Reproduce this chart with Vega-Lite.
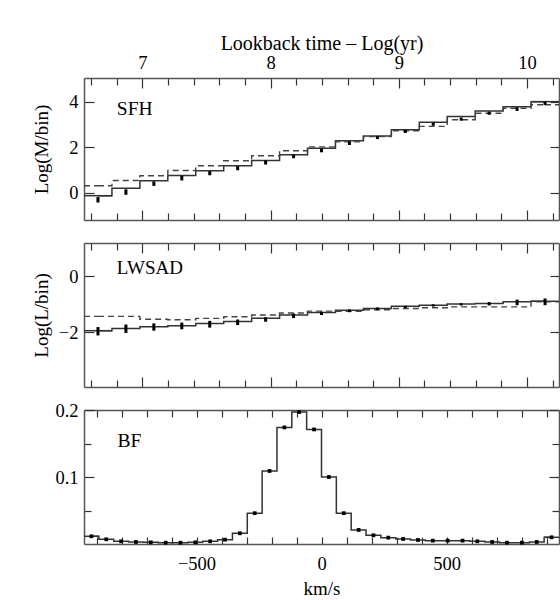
{
  "$schema": "https://vega.github.io/schema/vega-lite/v6.json",
  "background": "white",
  "padding": {"left": 31, "top": 33, "right": 1, "bottom": 0},
  "spacing": 23,
  "bounds": "flush",
  "datasets": {
    "sfh": [
      {"x": 6.653, "x0": 6.544, "x1": 6.762, "fit": -0.13, "model": 0.31, "lo": -0.43, "hi": -0.19},
      {"x": 6.871, "x0": 6.762, "x1": 6.980, "fit": 0.20, "model": 0.54, "lo": -0.09, "hi": 0.15},
      {"x": 7.089, "x0": 6.980, "x1": 7.198, "fit": 0.53, "model": 0.75, "lo": 0.30, "hi": 0.50},
      {"x": 7.307, "x0": 7.198, "x1": 7.416, "fit": 0.76, "model": 0.98, "lo": 0.54, "hi": 0.74},
      {"x": 7.525, "x0": 7.416, "x1": 7.634, "fit": 0.97, "model": 1.19, "lo": 0.77, "hi": 0.95},
      {"x": 7.743, "x0": 7.634, "x1": 7.852, "fit": 1.19, "model": 1.41, "lo": 0.99, "hi": 1.17},
      {"x": 7.961, "x0": 7.852, "x1": 8.070, "fit": 1.42, "model": 1.63, "lo": 1.24, "hi": 1.42},
      {"x": 8.179, "x0": 8.070, "x1": 8.288, "fit": 1.67, "model": 1.85, "lo": 1.52, "hi": 1.68},
      {"x": 8.397, "x0": 8.288, "x1": 8.506, "fit": 1.96, "model": 2.02, "lo": 1.78, "hi": 1.94},
      {"x": 8.615, "x0": 8.506, "x1": 8.724, "fit": 2.29, "model": 2.24, "lo": 2.10, "hi": 2.26},
      {"x": 8.833, "x0": 8.724, "x1": 8.942, "fit": 2.50, "model": 2.47, "lo": 2.36, "hi": 2.50},
      {"x": 9.051, "x0": 8.942, "x1": 9.160, "fit": 2.77, "model": 2.73, "lo": 2.63, "hi": 2.77},
      {"x": 9.269, "x0": 9.160, "x1": 9.378, "fit": 3.10, "model": 2.92, "lo": 2.95, "hi": 3.09},
      {"x": 9.487, "x0": 9.378, "x1": 9.596, "fit": 3.36, "model": 3.21, "lo": 3.17, "hi": 3.31},
      {"x": 9.705, "x0": 9.596, "x1": 9.814, "fit": 3.60, "model": 3.50, "lo": 3.43, "hi": 3.57},
      {"x": 9.923, "x0": 9.814, "x1": 10.032, "fit": 3.79, "model": 3.72, "lo": 3.60, "hi": 3.76},
      {"x": 10.141, "x0": 10.032, "x1": 10.250, "fit": 4.01, "model": 3.87, "lo": 3.86, "hi": 4.02}
    ],
    "lw": [
      {"x": 6.653, "x0": 6.544, "x1": 6.762, "fit": -1.95, "model": -1.44, "lo": -2.12, "hi": -1.82},
      {"x": 6.871, "x0": 6.762, "x1": 6.980, "fit": -1.87, "model": -1.44, "lo": -2.03, "hi": -1.73},
      {"x": 7.089, "x0": 6.980, "x1": 7.198, "fit": -1.81, "model": -1.54, "lo": -1.95, "hi": -1.69},
      {"x": 7.307, "x0": 7.198, "x1": 7.416, "fit": -1.77, "model": -1.56, "lo": -1.90, "hi": -1.66},
      {"x": 7.525, "x0": 7.416, "x1": 7.634, "fit": -1.69, "model": -1.51, "lo": -1.84, "hi": -1.60},
      {"x": 7.743, "x0": 7.634, "x1": 7.852, "fit": -1.62, "model": -1.45, "lo": -1.75, "hi": -1.55},
      {"x": 7.961, "x0": 7.852, "x1": 8.070, "fit": -1.51, "model": -1.39, "lo": -1.63, "hi": -1.47},
      {"x": 8.179, "x0": 8.070, "x1": 8.288, "fit": -1.39, "model": -1.32, "lo": -1.50, "hi": -1.34},
      {"x": 8.397, "x0": 8.288, "x1": 8.506, "fit": -1.30, "model": -1.25, "lo": -1.39, "hi": -1.27},
      {"x": 8.615, "x0": 8.506, "x1": 8.724, "fit": -1.22, "model": -1.26, "lo": -1.29, "hi": -1.19},
      {"x": 8.833, "x0": 8.724, "x1": 8.942, "fit": -1.16, "model": -1.20, "lo": -1.22, "hi": -1.12},
      {"x": 9.051, "x0": 8.942, "x1": 9.160, "fit": -1.08, "model": -1.16, "lo": -1.14, "hi": -1.06},
      {"x": 9.269, "x0": 9.160, "x1": 9.378, "fit": -1.04, "model": -1.13, "lo": -1.09, "hi": -1.01},
      {"x": 9.487, "x0": 9.378, "x1": 9.596, "fit": -1.00, "model": -1.10, "lo": -1.05, "hi": -0.97},
      {"x": 9.705, "x0": 9.596, "x1": 9.814, "fit": -0.98, "model": -1.10, "lo": -1.05, "hi": -0.93},
      {"x": 9.923, "x0": 9.814, "x1": 10.032, "fit": -0.92, "model": -1.10, "lo": -1.04, "hi": -0.84},
      {"x": 10.141, "x0": 10.032, "x1": 10.250, "fit": -0.90, "model": -0.92, "lo": -1.04, "hi": -0.80}
    ],
    "bf": [
      {"x": -920.3, "x0": -950.0, "x1": -890.6, "y": 0.0115},
      {"x": -860.9, "x0": -890.6, "x1": -831.3, "y": 0.007},
      {"x": -801.6, "x0": -831.3, "x1": -771.9, "y": 0.004},
      {"x": -742.2, "x0": -771.9, "x1": -712.5, "y": 0.003},
      {"x": -682.8, "x0": -712.5, "x1": -653.1, "y": 0.0025},
      {"x": -623.4, "x0": -653.1, "x1": -593.8, "y": 0.002},
      {"x": -564.1, "x0": -593.8, "x1": -534.4, "y": 0.002},
      {"x": -504.7, "x0": -534.4, "x1": -475.0, "y": 0.0025},
      {"x": -445.3, "x0": -475.0, "x1": -415.6, "y": 0.004},
      {"x": -385.9, "x0": -415.6, "x1": -356.3, "y": 0.0065},
      {"x": -326.6, "x0": -356.3, "x1": -296.9, "y": 0.016},
      {"x": -267.2, "x0": -296.9, "x1": -237.5, "y": 0.046},
      {"x": -207.8, "x0": -237.5, "x1": -178.1, "y": 0.109},
      {"x": -148.4, "x0": -178.1, "x1": -118.8, "y": 0.174},
      {"x": -89.1, "x0": -118.8, "x1": -59.4, "y": 0.197},
      {"x": -29.7, "x0": -59.4, "x1": 0.0, "y": 0.171},
      {"x": 29.7, "x0": 0.0, "x1": 59.4, "y": 0.100},
      {"x": 89.1, "x0": 59.4, "x1": 118.8, "y": 0.046},
      {"x": 148.4, "x0": 118.8, "x1": 178.1, "y": 0.021},
      {"x": 207.8, "x0": 178.1, "x1": 237.5, "y": 0.013},
      {"x": 267.2, "x0": 237.5, "x1": 296.9, "y": 0.0095},
      {"x": 326.6, "x0": 296.9, "x1": 356.3, "y": 0.0075},
      {"x": 385.9, "x0": 356.3, "x1": 415.6, "y": 0.006},
      {"x": 445.3, "x0": 415.6, "x1": 475.0, "y": 0.005},
      {"x": 504.7, "x0": 475.0, "x1": 534.4, "y": 0.005},
      {"x": 564.1, "x0": 534.4, "x1": 593.8, "y": 0.005},
      {"x": 623.4, "x0": 593.8, "x1": 653.1, "y": 0.004},
      {"x": 682.8, "x0": 653.1, "x1": 712.5, "y": 0.003},
      {"x": 742.2, "x0": 712.5, "x1": 771.9, "y": 0.002},
      {"x": 801.6, "x0": 771.9, "x1": 831.3, "y": 0.002},
      {"x": 860.9, "x0": 831.3, "x1": 890.6, "y": 0.003},
      {"x": 920.3, "x0": 890.6, "x1": 950.0, "y": 0.010}
    ]
  },
  "vconcat": [
    {
      "width": 475,
      "height": 142,
      "data": {"name": "sfh"},
      "layer": [
        {
          "mark": {"type": "line", "interpolate": "step", "color": "#333", "strokeWidth": 1.5},
          "encoding": {
            "x": {"field": "x", "type": "quantitative", "scale": {"domain": [6.544, 10.25], "nice": false, "zero": false},
              "axis": {"orient": "top", "values": [6.6, 6.8, 7, 7.2, 7.4, 7.6, 7.8, 8, 8.2, 8.4, 8.6, 8.8, 9, 9.2, 9.4, 9.6, 9.8, 10, 10.2],
                "tickSize": {"condition": {"test": "abs(datum.value - round(datum.value)) < 0.01", "value": -10}, "value": -7},
                "labelExpr": "abs(datum.value - round(datum.value)) < 0.01 ? format(datum.value, '.0f') : ''",
                "labelPadding": 16, "title": "Lookback time – Log(yr)", "titleFontSize": 20, "titleY": -25}},
            "y": {"field": "fit", "type": "quantitative", "scale": {"domain": [-1.2, 5.05], "nice": false, "zero": false},
              "axis": {"orient": "left", "values": [0, 2, 4], "tickSize": -10, "labelPadding": 16, "format": "d", "title": "Log(M/bin)", "titleX": -33}}
          }
        },
        {
          "transform": [{"filter": "datum.x0 < 6.6 || datum.x1 > 10.2"}],
          "mark": {"type": "rule", "color": "#333", "strokeWidth": 1.5},
          "encoding": {
            "x": {"field": "x0", "type": "quantitative",
              "axis": {"orient": "bottom", "values": [6.6, 6.8, 7, 7.2, 7.4, 7.6, 7.8, 8, 8.2, 8.4, 8.6, 8.8, 9, 9.2, 9.4, 9.6, 9.8, 10, 10.2],
                "tickSize": {"condition": {"test": "abs(datum.value - round(datum.value)) < 0.01", "value": -10}, "value": -7},
                "labels": false, "title": null}},
            "x2": {"field": "x1"},
            "y": {"field": "fit", "type": "quantitative",
              "axis": {"orient": "right", "values": [0, 2, 4], "tickSize": -9, "labels": false, "title": null}}
          }
        },
        {
          "mark": {"type": "line", "interpolate": "step", "color": "#444", "strokeWidth": 1.4, "strokeDash": [6, 4]},
          "encoding": {
            "x": {"field": "x", "type": "quantitative", "axis": null},
            "y": {"field": "model", "type": "quantitative", "axis": null}
          }
        },
        {
          "transform": [{"filter": "datum.x0 < 6.6"}],
          "mark": {"type": "rule", "color": "#444", "strokeWidth": 1.4, "strokeDash": [6, 4]},
          "encoding": {
            "x": {"field": "x0", "type": "quantitative", "axis": null},
            "x2": {"field": "x"},
            "y": {"field": "model", "type": "quantitative", "axis": null}
          }
        },
        {
          "transform": [{"filter": "datum.x1 > 10.2"}],
          "mark": {"type": "rule", "color": "#444", "strokeWidth": 1.4, "strokeDash": [6, 4]},
          "encoding": {
            "x": {"field": "x", "type": "quantitative", "axis": null},
            "x2": {"field": "x1"},
            "y": {"field": "model", "type": "quantitative", "axis": null}
          }
        },
        {
          "mark": {"type": "rule", "color": "black", "strokeWidth": 3},
          "encoding": {
            "x": {"field": "x", "type": "quantitative", "axis": null},
            "y": {"field": "lo", "type": "quantitative", "axis": null},
            "y2": {"field": "hi"}
          }
        },
        {
          "data": {"values": [{}]},
          "mark": {"type": "text", "align": "left", "baseline": "alphabetic", "font": "Liberation Serif", "fontSize": 19.5, "color": "black"},
          "encoding": {
            "x": {"datum": 6.8, "type": "quantitative", "axis": null},
            "y": {"datum": 3.43, "type": "quantitative", "axis": null},
            "text": {"value": "SFH"}
          }
        }
      ]
    },
    {
      "width": 475,
      "height": 144,
      "data": {"name": "lw"},
      "layer": [
        {
          "mark": {"type": "line", "interpolate": "step", "color": "#333", "strokeWidth": 1.5},
          "encoding": {
            "x": {"field": "x", "type": "quantitative", "scale": {"domain": [6.544, 10.25], "nice": false, "zero": false},
              "axis": {"orient": "top", "values": [6.6, 6.8, 7, 7.2, 7.4, 7.6, 7.8, 8, 8.2, 8.4, 8.6, 8.8, 9, 9.2, 9.4, 9.6, 9.8, 10, 10.2],
                "tickSize": {"condition": {"test": "abs(datum.value - round(datum.value)) < 0.01", "value": -10}, "value": -7},
                "labels": false, "title": null}},
            "y": {"field": "fit", "type": "quantitative", "scale": {"domain": [-3.96, 1.18], "nice": false, "zero": false},
              "axis": {"orient": "left", "values": [-2, 0], "tickSize": -10, "labelPadding": 16, "format": "d", "title": "Log(L/bin)", "titleX": -33}}
          }
        },
        {
          "transform": [{"filter": "datum.x0 < 6.6 || datum.x1 > 10.2"}],
          "mark": {"type": "rule", "color": "#333", "strokeWidth": 1.5},
          "encoding": {
            "x": {"field": "x0", "type": "quantitative",
              "axis": {"orient": "bottom", "values": [6.6, 6.8, 7, 7.2, 7.4, 7.6, 7.8, 8, 8.2, 8.4, 8.6, 8.8, 9, 9.2, 9.4, 9.6, 9.8, 10, 10.2],
                "tickSize": {"condition": {"test": "abs(datum.value - round(datum.value)) < 0.01", "value": -10}, "value": -7},
                "labels": false, "title": null}},
            "x2": {"field": "x1"},
            "y": {"field": "fit", "type": "quantitative",
              "axis": {"orient": "right", "values": [-2, 0], "tickSize": -9, "labels": false, "title": null}}
          }
        },
        {
          "mark": {"type": "line", "interpolate": "step", "color": "#444", "strokeWidth": 1.4, "strokeDash": [6, 4]},
          "encoding": {
            "x": {"field": "x", "type": "quantitative", "axis": null},
            "y": {"field": "model", "type": "quantitative", "axis": null}
          }
        },
        {
          "transform": [{"filter": "datum.x0 < 6.6"}],
          "mark": {"type": "rule", "color": "#444", "strokeWidth": 1.4, "strokeDash": [6, 4]},
          "encoding": {
            "x": {"field": "x0", "type": "quantitative", "axis": null},
            "x2": {"field": "x"},
            "y": {"field": "model", "type": "quantitative", "axis": null}
          }
        },
        {
          "transform": [{"filter": "datum.x1 > 10.2"}],
          "mark": {"type": "rule", "color": "#444", "strokeWidth": 1.4, "strokeDash": [6, 4]},
          "encoding": {
            "x": {"field": "x", "type": "quantitative", "axis": null},
            "x2": {"field": "x1"},
            "y": {"field": "model", "type": "quantitative", "axis": null}
          }
        },
        {
          "mark": {"type": "rule", "color": "black", "strokeWidth": 3},
          "encoding": {
            "x": {"field": "x", "type": "quantitative", "axis": null},
            "y": {"field": "lo", "type": "quantitative", "axis": null},
            "y2": {"field": "hi"}
          }
        },
        {
          "data": {"values": [{}]},
          "mark": {"type": "text", "align": "left", "baseline": "alphabetic", "font": "Liberation Serif", "fontSize": 19, "color": "black"},
          "encoding": {
            "x": {"datum": 6.8, "type": "quantitative", "axis": null},
            "y": {"datum": 0.07, "type": "quantitative", "axis": null},
            "text": {"value": "LWSAD"}
          }
        }
      ]
    },
    {
      "width": 475,
      "height": 134,
      "data": {"name": "bf"},
      "layer": [
        {
          "mark": {"type": "line", "interpolate": "step", "color": "#333", "strokeWidth": 1.5},
          "encoding": {
            "x": {"field": "x", "type": "quantitative", "scale": {"domain": [-950, 950], "nice": false, "zero": false},
              "axis": {"orient": "bottom", "values": [-900, -800, -700, -600, -500, -400, -300, -200, -100, 0, 100, 200, 300, 400, 500, 600, 700, 800, 900],
                "tickSize": -7,
                "labelExpr": "abs(datum.value) % 500 == 0 ? format(datum.value, 'd') : ''",
                "labelPadding": 17.7, "title": "km/s", "titleY": 35, "titleBaseline": "top"}},
            "y": {"field": "y", "type": "quantitative", "scale": {"domain": [0, 0.2], "nice": false, "zero": false},
              "axis": {"orient": "left", "values": [0.05, 0.1, 0.15, 0.2],
                "tickSize": {"condition": {"test": "abs(datum.value * 10 - round(datum.value * 10)) < 0.01", "value": -10}, "value": -7},
                "labelExpr": "abs(datum.value * 10 - round(datum.value * 10)) < 0.01 ? format(datum.value, '.1f') : ''",
                "labelPadding": 16, "title": null}}
          }
        },
        {
          "transform": [{"filter": "datum.x0 < -940 || datum.x1 > 940"}],
          "mark": {"type": "rule", "color": "#333", "strokeWidth": 1.5},
          "encoding": {
            "x": {"field": "x0", "type": "quantitative",
              "axis": {"orient": "top", "values": [-900, -800, -700, -600, -500, -400, -300, -200, -100, 0, 100, 200, 300, 400, 500, 600, 700, 800, 900],
                "tickSize": -7, "labels": false, "title": null}},
            "x2": {"field": "x1"},
            "y": {"field": "y", "type": "quantitative",
              "axis": {"orient": "right", "values": [0.05, 0.1, 0.15, 0.2],
                "tickSize": {"condition": {"test": "abs(datum.value * 10 - round(datum.value * 10)) < 0.01", "value": -10}, "value": -7},
                "labels": false, "title": null}}
          }
        },
        {
          "mark": {"type": "point", "shape": "square", "filled": true, "color": "black", "size": 14, "opacity": 1},
          "encoding": {
            "x": {"field": "x", "type": "quantitative", "axis": null},
            "y": {"field": "y", "type": "quantitative", "axis": null}
          }
        },
        {
          "data": {"values": [{}]},
          "mark": {"type": "text", "align": "left", "baseline": "alphabetic", "font": "Liberation Serif", "fontSize": 19.5, "color": "black"},
          "encoding": {
            "x": {"datum": -816, "type": "quantitative", "axis": null},
            "y": {"datum": 0.145, "type": "quantitative", "axis": null},
            "text": {"value": "BF"}
          }
        }
      ]
    }
  ],
  "config": {
    "font": "Liberation Serif",
    "view": {"stroke": null},
    "axis": {
      "grid": false,
      "domainColor": "#555",
      "domainWidth": 1.5,
      "tickColor": "#333",
      "tickWidth": 1.2,
      "labelFont": "Liberation Serif",
      "labelFontSize": 18.5,
      "labelColor": "black",
      "labelFlush": false,
      "labelOverlap": false,
      "titleFont": "Liberation Serif",
      "titleFontSize": 19,
      "titleFontWeight": "normal",
      "titleColor": "black"
    }
  }
}
